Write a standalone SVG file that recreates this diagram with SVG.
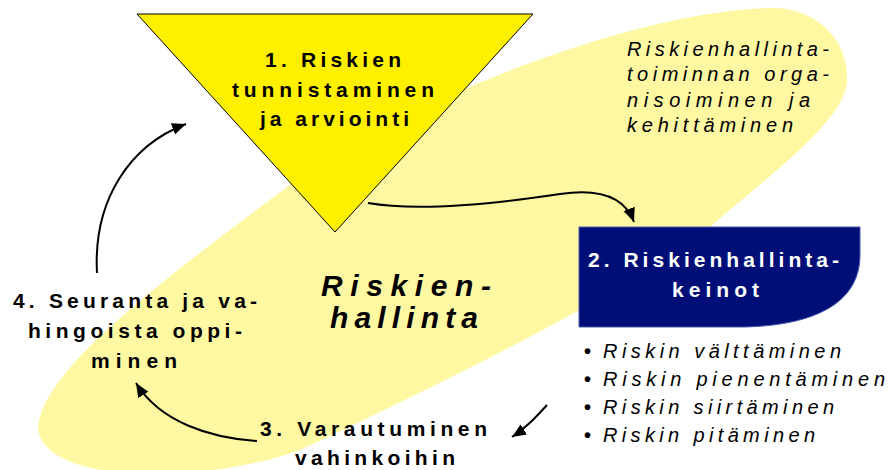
<svg xmlns="http://www.w3.org/2000/svg" width="889" height="470" viewBox="0 0 889 470">
<defs>
<style>
.b{font-family:"Liberation Sans",Arial,sans-serif;font-weight:bold;font-size:21px;fill:#000}
.w{fill:#fff}
.i{font-family:"Liberation Sans",Arial,sans-serif;font-style:italic;font-size:20px;fill:#000}
.dot{font-family:"Liberation Sans",Arial,sans-serif;font-weight:bold;font-size:20px;fill:#000}
.big{font-family:"Liberation Sans",Arial,sans-serif;font-weight:bold;font-style:italic;font-size:30px;fill:#000}
.con{fill:none;stroke:#000;stroke-width:2}
</style>
<marker id="ah" markerUnits="userSpaceOnUse" markerWidth="16" markerHeight="14" refX="14" refY="6" orient="auto">
<path d="M0,0 L14,6 L0,12 Z" fill="#000"/>
</marker>
</defs>
<rect width="889" height="470" fill="#fff"/>
<g id="blob">
<path d="M38,430 C40,380 120,310 290,185 C410,97 640,10 770,8 C815,6 850,40 847,82 C845,120 770,175 710,227 C650,280 450,380 300,450 C220,480 50,490 38,430 Z" fill="#FFF8A3"/>
</g>
<g id="node-1">
<path d="M137,14 L533,14 L335,232 Z" fill="#FFF000" stroke="#000" stroke-width="1"/>
<text class="b" x="265" y="67" textLength="136" lengthAdjust="spacing">1. Riskien</text>
<text class="b" x="232" y="97" textLength="202" lengthAdjust="spacing">tunnistaminen</text>
<text class="b" x="260" y="126" textLength="149" lengthAdjust="spacing">ja arviointi</text>
</g>
<g id="note">
<text class="i" x="627" y="56" textLength="202" lengthAdjust="spacing">Riskienhallinta-</text>
<text class="i" x="627" y="81" textLength="202" lengthAdjust="spacing">toiminnan orga-</text>
<text class="i" x="627" y="107" textLength="183" lengthAdjust="spacing">nisoiminen ja</text>
<text class="i" x="627" y="132" textLength="166" lengthAdjust="spacing">kehittäminen</text>
</g>
<g id="node-2">
<path d="M579,227 H860 V255 C860,300 820,325 745,327 H579 Z" fill="#000F78" stroke="#4A5AAE" stroke-width="1"/>
<text class="b w" x="588" y="267" textLength="251" lengthAdjust="spacing">2. Riskienhallinta-</text>
<text class="b w" x="672" y="297" textLength="87" lengthAdjust="spacing">keinot</text>
</g>
<g id="list">
<text class="dot" x="584" y="358">•</text>
<text class="i" x="603" y="358" textLength="238" lengthAdjust="spacing">Riskin välttäminen</text>
<text class="dot" x="584" y="386">•</text>
<text class="i" x="603" y="386" textLength="282" lengthAdjust="spacing">Riskin pienentäminen</text>
<text class="dot" x="584" y="414">•</text>
<text class="i" x="603" y="414" textLength="231" lengthAdjust="spacing">Riskin siirtäminen</text>
<text class="dot" x="584" y="442">•</text>
<text class="i" x="603" y="442" textLength="212" lengthAdjust="spacing">Riskin pitäminen</text>
</g>
<g id="center-label">
<text class="big" x="321" y="296" textLength="170" lengthAdjust="spacing">Riskien-</text>
<text class="big" x="330" y="328" textLength="148" lengthAdjust="spacing">hallinta</text>
</g>
<g id="node-3">
<text class="b" x="260" y="436" textLength="227" lengthAdjust="spacing">3. Varautuminen</text>
<text class="b" x="295" y="465" textLength="160" lengthAdjust="spacing">vahinkoihin</text>
</g>
<g id="node-4">
<text class="b" x="13" y="308" textLength="244" lengthAdjust="spacing">4. Seuranta ja va-</text>
<text class="b" x="28" y="338" textLength="214" lengthAdjust="spacing">hingoista oppi-</text>
<text class="b" x="91" y="368" textLength="86" lengthAdjust="spacing">minen</text>
</g>
<g id="connectors">
<path class="con" d="M368,203 C420,212 500,203 560,194 C600,188 625,198 634,222" marker-end="url(#ah)"/>
<path class="con" d="M547,405 C535,418 526,428 512,437" marker-end="url(#ah)"/>
<path class="con" d="M257,441 C210,438 160,422 136,383" marker-end="url(#ah)"/>
<path class="con" d="M97,273 C93,200 130,145 186,124" marker-end="url(#ah)"/>
</g>
</svg>
